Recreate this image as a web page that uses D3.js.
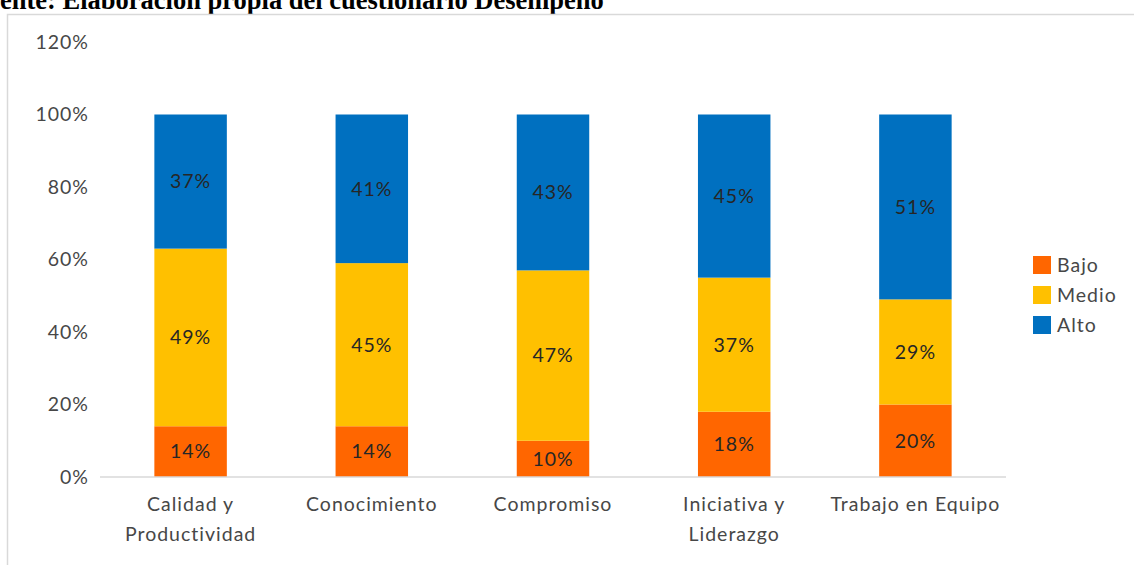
<!DOCTYPE html>
<html>
<head>
<meta charset="utf-8">
<script src="https://cdn.jsdelivr.net/npm/d3@7"></script>
<style>
  html, body { margin: 0; padding: 0; background: #fff; overflow: hidden; }
  svg { display: block; }
</style>
</head>
<body>
<svg id="chart" width="1134" height="565"></svg>
<script>
const categories = [['Calidad y', 'Productividad'], ['Conocimiento'], ['Compromiso'], ['Iniciativa y', 'Liderazgo'], ['Trabajo en Equipo']];
const seriesNames = ['Bajo', 'Medio', 'Alto'];
const bajo = [14, 14, 10, 18, 20];
const medio = [49, 45, 47, 37, 29];
const alto = [37, 41, 43, 45, 51];
const yTicks = [0, 20, 40, 60, 80, 100, 120];

const COLORS = { Bajo: '#FF6600', Medio: '#FFC000', Alto: '#0070C0' };
const FONT = 'Lato, "Open Sans", sans-serif';
const FS = '19.5px';
const LS = '1px';
const AXIS_TEXT = '#474747';

const svg = d3.select('#chart');

// source line, cut at the top/left like the scan
const source = svg.append('text')
    .attr('y', 9)
    .style('font-family', '"Liberation Serif", "Times New Roman", serif')
    .style('font-weight', 'bold').style('font-size', '26.5px').style('fill', '#000')
    .text('Fuente: Elaboración propia del cuestionario Desempeño');
source.attr('x', -source.node().getSubStringLength(0, 2));

// chart frame
svg.append('rect')
    .attr('x', 7.5).attr('y', 14.5).attr('width', 1140).attr('height', 600)
    .attr('fill', 'none').attr('stroke', '#d9d9d9').attr('stroke-width', 1.5);

const x = d3.scaleBand()
    .domain(categories.map((d, i) => i))
    .range([100, 1006])
    .paddingInner(0.6).paddingOuter(0.3);

const y = d3.scaleLinear().domain([0, 120]).range([477, 42]);

const rows = categories.map((c, i) => ({ i, Bajo: bajo[i], Medio: medio[i], Alto: alto[i] }));
const stacked = d3.stack().keys(seriesNames)(rows);

// y axis labels (no line, no ticks)
const yAxis = svg.append('g')
    .attr('transform', 'translate(100,0)')
    .call(d3.axisLeft(y).tickValues(yTicks).tickSize(0).tickPadding(11).tickFormat(d => d + '%'));
yAxis.select('.domain').remove();
yAxis.selectAll('text')
    .style('font-family', FONT).style('font-size', FS).style('letter-spacing', LS).style('fill', AXIS_TEXT);

// bars
const layer = svg.append('g').selectAll('g').data(stacked).join('g')
    .attr('fill', d => COLORS[d.key]);

layer.selectAll('rect').data(d => d).join('rect')
    .attr('x', d => x(d.data.i))
    .attr('width', x.bandwidth())
    .attr('y', d => y(d[1]))
    .attr('height', d => y(d[0]) - y(d[1]));

// data labels
layer.selectAll('text').data(d => d.map(v => ({ v, key: d.key }))).join('text')
    .attr('x', d => x(d.v.data.i) + x.bandwidth() / 2)
    .attr('y', d => (y(d.v[0]) + y(d.v[1])) / 2)
    .attr('dy', '0.35em')
    .attr('text-anchor', 'middle')
    .style('font-family', FONT).style('font-size', FS).style('letter-spacing', LS).style('fill', '#262626')
    .text(d => (d.v[1] - d.v[0]) + '%');

// baseline
svg.append('line')
    .attr('x1', 100).attr('x2', 1006).attr('y1', y(0)).attr('y2', y(0))
    .attr('stroke', '#d9d9d9').attr('stroke-width', 1.5);

// category labels
const xLabels = svg.append('g').selectAll('text').data(categories).join('text')
    .attr('x', (d, i) => x(i) + x.bandwidth() / 2)
    .attr('y', 511)
    .attr('text-anchor', 'middle')
    .style('font-family', FONT).style('font-size', FS).style('letter-spacing', LS).style('fill', AXIS_TEXT);
xLabels.selectAll('tspan').data(d => d).join('tspan')
    .attr('x', function () { return this.parentNode.getAttribute('x'); })
    .attr('dy', (d, j) => j === 0 ? 0 : 30)
    .text(d => d);

// legend
const legend = svg.append('g').selectAll('g').data(seriesNames).join('g')
    .attr('transform', (d, i) => `translate(1033,${256 + i * 30})`);
legend.append('rect').attr('width', 18).attr('height', 18).attr('fill', d => COLORS[d]);
legend.append('text')
    .attr('x', 24).attr('y', 9).attr('dy', '0.35em')
    .style('font-family', FONT).style('font-size', FS).style('letter-spacing', LS).style('fill', AXIS_TEXT)
    .text(d => d);
</script>
</body>
</html>
